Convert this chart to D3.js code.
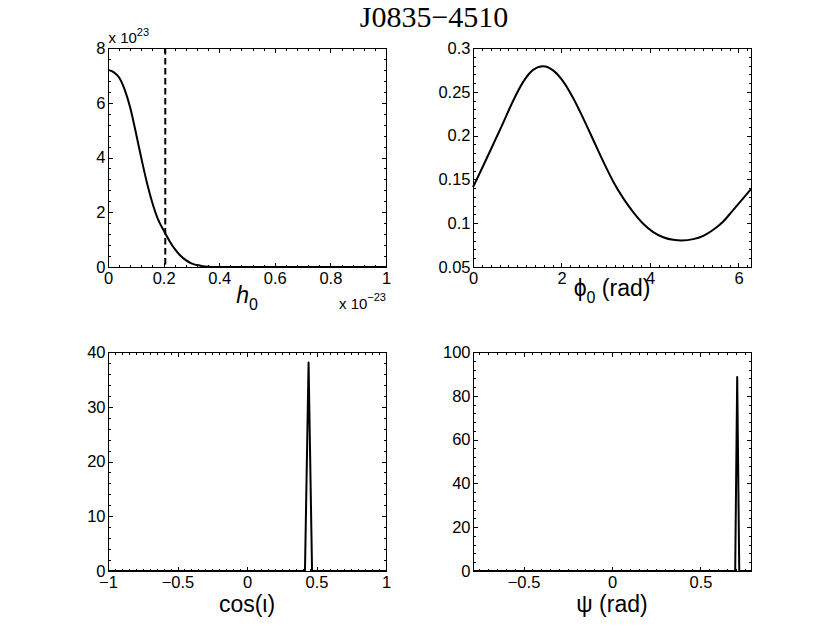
<!DOCTYPE html>
<html><head><meta charset="utf-8">
<script src="https://cdn.jsdelivr.net/npm/d3@7"></script>
<style>
body{margin:0;background:#fff}
svg text{font-family:"Liberation Sans",Arial,Helvetica,sans-serif;fill:#000}
</style>
</head><body><svg id="c" width="830" height="642"></svg>
<script>
// ---------------- data ----------------
const titleText = "J0835\u22124510";

// panel 1 : h0 posterior (x in units of 1e-23, y in units of 1e23)
const h0X = [0,0.02,0.04,0.06,0.08,0.10,0.12,0.14,0.16,0.18,0.20,0.22,0.24,0.26,0.28,0.30,0.32,0.34,0.36,0.38,0.40,0.5,0.6,0.7,0.8,0.9,1.0];
const h0Y = [7.20,7.12,6.92,6.48,5.82,4.92,3.97,3.08,2.33,1.74,1.34,0.97,0.66,0.42,0.25,0.13,0.07,0.03,0.01,0,0,0,0,0,0,0,0];
const h0UpperLimit = 0.206;
const h0XTicks = [0,0.2,0.4,0.6,0.8,1];
const h0YTicks = [0,2,4,6,8];

// panel 2 : phi0 posterior
const phi0X = [0,0.226,0.453,0.679,0.905,1.131,1.358,1.584,1.810,2.037,2.263,2.489,2.716,2.942,3.168,3.394,3.621,3.847,4.073,4.300,4.526,4.714,4.978,5.205,5.431,5.657,5.884,6.110,6.283];
const phi0Y = [0.1412,0.1650,0.1895,0.2143,0.2395,0.2610,0.2750,0.2791,0.2745,0.2619,0.2429,0.2200,0.1953,0.1705,0.1477,0.1286,0.1126,0.0993,0.0898,0.0840,0.0810,0.0803,0.0818,0.0856,0.0925,0.1020,0.1153,0.1286,0.1389];
const phi0XTicks = [0,2,4,6];
const phi0YTicks = [0.05,0.1,0.15,0.2,0.25,0.3];

// panel 3 : cos(iota) posterior
const cosIotaX = [-1,0.417,0.443,0.468,1];
const cosIotaY = [0,0,38.1,0,0];
const cosIotaXTicks = [-1,-0.5,0,0.5,1];
const cosIotaYTicks = [0,10,20,30,40];

// panel 4 : psi posterior
const psiX = [-0.7854,0.696,0.7074,0.719,0.7854];
const psiY = [0,0,88.6,0,0];
const psiXTicks = [-0.5,0,0.5];
const psiYTicks = [0,20,40,60,80,100];

// ---------------- layout ----------------
const svg = d3.select("#c");
const PW = 278, PH = 219;
const colX = [108, 473], rowY = [48, 352];
const TICK_FONT = "16.5px", LABEL_FONT = "23px";

svg.append("text").attr("x", 434).attr("y", 27).attr("text-anchor","middle")
  .style("font-family","'Liberation Serif','Times New Roman',Times,serif").style("font-size","30px")
  .text(titleText);

const fmt = d => d3.format("~g")(d).replace("-", "\u2212");

function panel(cfg){
  const g = svg.append("g").attr("transform", `translate(${cfg.x},${cfg.y})`);
  const xs = d3.scaleLinear().domain(cfg.xDomain).range([0, PW]);
  const ys = d3.scaleLinear().domain(cfg.yDomain).range([PH, 0]);
  const clipId = "clip" + cfg.id;
  g.append("clipPath").attr("id", clipId).append("rect").attr("x",-1).attr("y",-1).attr("width",PW+2).attr("height",PH+2);

  const minorX = d3.range(Math.ceil(cfg.xDomain[0]/cfg.xMinor - 1e-9)*cfg.xMinor, cfg.xDomain[1]+1e-9, cfg.xMinor);
  const minorY = d3.range(Math.ceil(cfg.yDomain[0]/cfg.yMinor - 1e-9)*cfg.yMinor, cfg.yDomain[1]+1e-9, cfg.yMinor);

  const ax = (gen, pos, vals, size, labels) => {
    const a = gen.tickValues(vals).tickSize(size).tickSizeOuter(0);
    if (!labels) a.tickFormat("");
    else a.tickFormat(fmt);
    const s = g.append("g").attr("transform", pos).call(a);
    s.attr("font-size", null).attr("font-family", null);
    s.select(".domain").remove();
    s.selectAll("line").attr("stroke","#000").attr("stroke-width",1).attr("shape-rendering","crispEdges");
    s.selectAll("text").style("font-size",TICK_FONT).attr("fill","#000");
    return s;
  };
  // minor ticks
  ax(d3.axisBottom(xs), `translate(0,${PH})`, minorX, -2.5, false);
  ax(d3.axisTop(xs), `translate(0,0)`, minorX, -2.5, false);
  ax(d3.axisLeft(ys), `translate(0,0)`, minorY, -2.5, false);
  ax(d3.axisRight(ys), `translate(${PW},0)`, minorY, -2.5, false);
  // major ticks
  ax(d3.axisBottom(xs).tickPadding(5.5), `translate(0,${PH})`, cfg.xTicks, -4.5, true);
  ax(d3.axisTop(xs), `translate(0,0)`, cfg.xTicks, -4.5, false);
  ax(d3.axisLeft(ys).tickPadding(2.5), `translate(0,0)`, cfg.yTicks, -4.5, true);
  ax(d3.axisRight(ys), `translate(${PW},0)`, cfg.yTicks, -4.5, false);

  // box
  g.append("rect").attr("x",0).attr("y",0).attr("width",PW).attr("height",PH)
    .attr("fill","none").attr("stroke","#000").attr("stroke-width",1).attr("shape-rendering","crispEdges");

  const pts = cfg.xs.map((x,i)=>[x, cfg.ys[i]]);
  g.append("path").attr("clip-path",`url(#${clipId})`)
    .attr("d", d3.line().x(d=>xs(d[0])).y(d=>ys(d[1])).curve(cfg.curve)(pts))
    .attr("fill","none").attr("stroke","#000").attr("stroke-width",2).attr("stroke-linejoin","round");

  if (cfg.vline !== undefined){
    g.append("line").attr("x1",xs(cfg.vline)).attr("x2",xs(cfg.vline)).attr("y1",0).attr("y2",PH)
      .attr("stroke","#000").attr("stroke-width",2).attr("stroke-dasharray","6.5,3.5");
  }
  cfg.extra && cfg.extra(g);
}

panel({id:1, x:colX[0], y:rowY[0], xDomain:[0,1], yDomain:[0,8], xTicks:h0XTicks, yTicks:h0YTicks,
  xMinor:0.04, yMinor:0.4, xs:h0X, ys:h0Y, curve:d3.curveMonotoneX, vline:h0UpperLimit,
  extra: g => {
    const t = g.append("text").attr("x",0.5).attr("y",-5).style("font-size","15px");
    t.append("tspan").text("x 10");
    t.append("tspan").attr("dy",-7).style("font-size","11px").text("23");
    const t2 = g.append("text").attr("x",PW).attr("y",PH+42).attr("text-anchor","end").style("font-size","15px");
    t2.append("tspan").text("x 10");
    t2.append("tspan").attr("dy",-8).style("font-size","11px").text("\u221223");
    const l = g.append("text").attr("x",139).attr("y",PH+36).attr("text-anchor","middle").style("font-size",LABEL_FONT);
    l.append("tspan").style("font-style","italic").text("h");
    l.append("tspan").attr("dy",7).style("font-size","16px").text("0");
  }});

panel({id:2, x:colX[1], y:rowY[0], xDomain:[0,2*Math.PI], yDomain:[0.05,0.3], xTicks:phi0XTicks, yTicks:phi0YTicks,
  xMinor:0.2, yMinor:0.01, xs:phi0X, ys:phi0Y, curve:d3.curveMonotoneX,
  extra: g => {
    const l = g.append("text").attr("x",139).attr("y",PH+29).attr("text-anchor","middle").style("font-size",LABEL_FONT);
    l.append("tspan").text("\u03d5");
    l.append("tspan").attr("dy",7).style("font-size","16px").text("0");
    l.append("tspan").attr("dy",-7).text(" (rad)");
  }});

panel({id:3, x:colX[0], y:rowY[1], xDomain:[-1,1], yDomain:[0,40], xTicks:cosIotaXTicks, yTicks:cosIotaYTicks,
  xMinor:0.05, yMinor:2, xs:cosIotaX, ys:cosIotaY, curve:d3.curveLinear,
  extra: g => {
    g.append("text").attr("x",139).attr("y",PH+41).attr("text-anchor","middle").style("font-size",LABEL_FONT).text("cos(\u03b9)");
  }});

panel({id:4, x:colX[1], y:rowY[1], xDomain:[-Math.PI/4,Math.PI/4], yDomain:[0,100], xTicks:psiXTicks, yTicks:psiYTicks,
  xMinor:0.05, yMinor:4, xs:psiX, ys:psiY, curve:d3.curveLinear,
  extra: g => {
    g.append("text").attr("x",139).attr("y",PH+41).attr("text-anchor","middle").style("font-size",LABEL_FONT).text("\u03c8 (rad)");
  }});
</script>
</body></html>
